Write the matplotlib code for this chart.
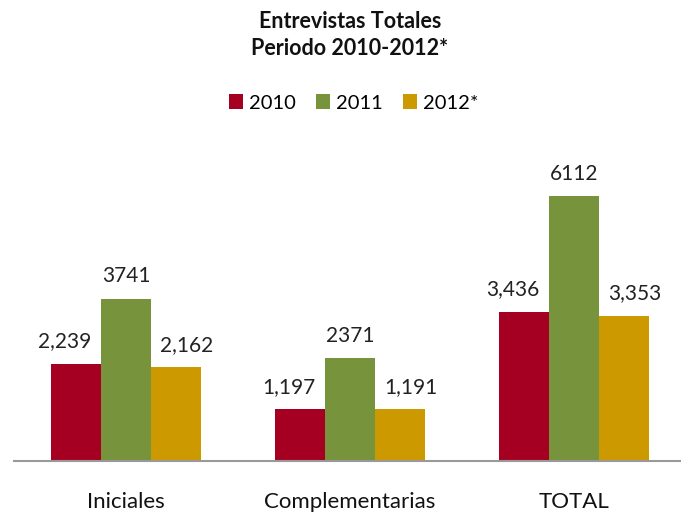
import matplotlib
matplotlib.use("Agg")
import matplotlib.pyplot as plt
import numpy as np

categories = ["Iniciales", "Complementarias", "TOTAL"]
series_names = ["2010", "2011", "2012*"]
v2010 = [2239, 1197, 3436]
v2011 = [3741, 2371, 6112]
v2012 = [2162, 1191, 3353]
label_fmt = ["{:,}", "{}", "{:,}"]
colors = ["#A50021", "#77933C", "#CC9900"]

plt.rcParams['font.family'] = ['Lato', 'DejaVu Sans']

fig = plt.figure(figsize=(6.81, 5.12), dpi=100)
ax = fig.add_axes([14/681, 1 - 461/512, 1 - 14/681, (461 - 157.5)/512])

x = np.arange(len(categories))
w = 50/224
label_dx = [-8, 0, 8]  # points: labels nudged outward from the middle bar
for i, (vals, name, c, fmt) in enumerate(zip([v2010, v2011, v2012], series_names, colors, label_fmt)):
    xs = x + (i - 1) * w
    ax.bar(xs, vals, width=w, color=c, label=name, zorder=2)
    for xi, v in zip(xs, vals):
        ax.annotate(fmt.format(v), (xi, v), xytext=(label_dx[i], 9), textcoords="offset points",
                    ha="center", va="bottom", fontsize=15, color="#222222")

ax.set_xlim(-0.5, -0.5 + 667/224)
ax.set_ylim(0, 7000)
ax.set_yticks([])
ax.set_xticks(x)
ax.set_xticklabels(categories, fontsize=16, color="#111111")
ax.tick_params(axis="x", length=0, pad=22)
for s in ["top", "right", "left"]:
    ax.spines[s].set_visible(False)
ax.spines["bottom"].set_color("#999999")
ax.spines["bottom"].set_linewidth(1.5)

fig.text(0.514, 1 - 35/512, "Entrevistas Totales\nPeriodo 2010-2012*", ha="center", va="center",
         fontsize=15.5, fontweight="bold", linespacing=1.35, color="#111111")

leg = fig.legend(loc="center", bbox_to_anchor=(0.519, 1 - 103/512), ncol=3, frameon=False,
                 fontsize=14.5, handlelength=0.7, handleheight=0.7, handletextpad=0.3,
                 columnspacing=1.0)

fig.savefig("out.png", dpi=100)
